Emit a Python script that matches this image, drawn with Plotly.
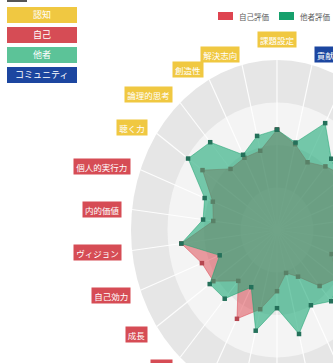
import numpy as np
import plotly.graph_objects as go

# ---- data -------------------------------------------------------------
AXES = [
    "課題設定", "解決志向", "創造性", "論理的思考", "聴く力",
    "個人的実行力", "内的価値", "ヴィジョン", "自己効力", "成長", "楽観", "自己管理",
    "共感力", "協働性", "信頼構築", "対人理解", "影響力", "支援", "フィードバック",
    "多様性理解", "社会的責任", "地域参加", "ネットワーク", "共創", "発信力", "貢献",
]
AXIS_GROUP = (["認知"] * 5 + ["自己"] * 7 + ["他者"] * 7 + ["コミュニティ"] * 7)

SELF_SCORE = [59, 48, 48, 48, 62, 47, 44, 66, 55, 53, 40, 59, 48,
              36, 26, 31, 44, 50, 40, 55, 56, 58, 56, 50, 45, 52]
OTHER_SCORE = [59, 57, 50, 69, 74, 53, 51, 66, 42, 56, 54, 38, 61,
               46, 63, 50, 56, 52, 50, 54, 52, 56, 52, 56, 71, 53]

CATEGORIES = ["認知", "自己", "他者", "コミュニティ"]
SERIES = ["自己評価", "他者評価"]
MAX_SCORE = 100
SPLIT_NUMBER = 4

# ---- styling ----------------------------------------------------------
CAT_COLORS = {"認知": "#f0c841", "自己": "#d64c55", "他者": "#5cc398", "コミュニティ": "#1c46a0"}
SERIES_COLORS = ["#de4450", "#16a06c"]
SERIES_FILL = ["rgba(220,62,72,0.5)", "rgba(28,168,118,0.6)"]
MARKER_COLORS = ["#b54650", "#24705a"]
FONT = "Noto Sans CJK JP"

W, H = 333, 363
CX, CY = 277, 230          # radar centre in pixels
SX, SY = 146, 170          # pixels per unit radius (x, y)
LABEL_H = 15               # height of the axis-name boxes, px

n = len(AXES)
theta = -np.arange(n) * 2 * np.pi / n      # counter-clockwise from the top


def polygon(scores):
    r = np.asarray(scores, dtype=float) / MAX_SCORE
    x = r * np.sin(theta)
    y = r * np.cos(theta)
    return np.append(x, x[0]), np.append(y, y[0])


fig = go.Figure()

# split areas (alternating rings) and spokes
shapes = []
band_colors = ["#e6e6e6", "#f4f4f4"]
for i in range(SPLIT_NUMBER, 0, -1):
    rr = i / SPLIT_NUMBER
    shapes.append(dict(type="circle", xref="x", yref="y", x0=-rr, y0=-rr, x1=rr, y1=rr,
                       fillcolor=band_colors[(SPLIT_NUMBER - i) % 2], line=dict(width=0),
                       layer="below"))
for t in theta:
    shapes.append(dict(type="line", xref="x", yref="y", x0=0, y0=0,
                       x1=float(np.sin(t)), y1=float(np.cos(t)),
                       line=dict(color="rgba(255,255,255,0.9)", width=1.2), layer="below"))

# series polygons
for name, scores, fc, lc, mc in zip(SERIES, [SELF_SCORE, OTHER_SCORE],
                                    SERIES_FILL, SERIES_COLORS, MARKER_COLORS):
    x, y = polygon(scores)
    fig.add_trace(go.Scatter(
        x=x, y=y, name=name, mode="lines+markers", fill="toself", fillcolor=fc,
        line=dict(color=lc, width=0.5),
        marker=dict(symbol="square", size=4.5, color=mc),
        showlegend=False, hoverinfo="skip"))

annotations = []

# axis names in coloured boxes (anchored on their top edge so that boxes
# straddling the lower border are still drawn)
LABEL_R = 1.07
half_box = LABEL_H / 2 / SY
for name, grp, t in zip(AXES, AXIS_GROUP, theta):
    s, c = np.sin(t), np.cos(t)
    y = LABEL_R * c
    if abs(s) < 0.05:
        xanchor = "center"
        yanchor = "bottom" if c > 0 else "top"
    else:
        xanchor = "left" if s > 0 else "right"
        yanchor = "top"
        y += half_box
    annotations.append(dict(
        x=float(LABEL_R * s), y=float(y), xref="x", yref="y",
        text=name, showarrow=False, xanchor=xanchor, yanchor=yanchor,
        font=dict(family=FONT, size=8.5, color="white"),
        bgcolor=CAT_COLORS[grp], borderpad=0,
        width=8.6 * len(name) + 4, height=LABEL_H, align="center", valign="middle"))

# category boxes, top left
shapes.append(dict(type="rect", xref="paper", yref="paper",
                   x0=7 / W, x1=27 / W, y0=1 - 2 / H, y1=1.02,
                   fillcolor="#555555", line=dict(width=0)))
for i, cat in enumerate(CATEGORIES):
    top = 7 + 20 * i
    shapes.append(dict(type="rect", xref="paper", yref="paper",
                       x0=7 / W, x1=77 / W, y0=1 - (top + 16) / H, y1=1 - top / H,
                       fillcolor=CAT_COLORS[cat], line=dict(width=0)))
    annotations.append(dict(x=42 / W, y=1 - (top + 8) / H, xref="paper", yref="paper",
                            text=cat, showarrow=False, xanchor="center", yanchor="middle",
                            font=dict(family=FONT, size=9, color="white")))

# series legend, top right
for i, name in enumerate(SERIES):
    x0 = 218 + 61 * i
    shapes.append(dict(type="rect", xref="paper", yref="paper",
                       x0=x0 / W, x1=(x0 + 15) / W, y0=1 - 20 / H, y1=1 - 12 / H,
                       fillcolor=SERIES_COLORS[i], line=dict(width=0)))
    annotations.append(dict(x=(x0 + 19) / W, y=1 - 16 / H, xref="paper", yref="paper",
                            text=name, showarrow=False, xanchor="left", yanchor="middle",
                            font=dict(family=FONT, size=7.5, color="#5a5a5a")))

fig.update_layout(
    width=W, height=H, margin=dict(l=0, r=0, t=0, b=0),
    paper_bgcolor="white", plot_bgcolor="white",
    xaxis=dict(range=[-CX / SX, (W - CX) / SX], visible=False, fixedrange=True),
    yaxis=dict(range=[-(H - CY) / SY, CY / SY], visible=False, fixedrange=True),
    shapes=shapes, annotations=annotations,
)

fig.write_html("out.html")
